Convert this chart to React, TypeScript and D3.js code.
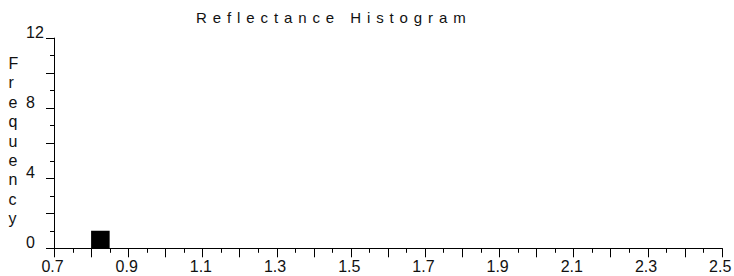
import React, { useEffect, useRef } from "react";
import * as d3 from "d3";

// histogram bins (reflectance) and counts
const binStarts = [0.8];
const binEnds = [0.85];
const binCounts = [1];

const xMajorTicks = [0.7, 0.8, 0.9, 1.0, 1.1, 1.2, 1.3, 1.4, 1.5, 1.6, 1.7, 1.8, 1.9, 2.0, 2.1, 2.2, 2.3, 2.4, 2.5];
const xLabels = [0.7, 0.9, 1.1, 1.3, 1.5, 1.7, 1.9, 2.1, 2.3, 2.5];
const yMajorTicks = [0, 2, 4, 6, 8, 10, 12];
const yLabels = [0, 4, 8, 12];

const title = "Reflectance Histogram";
const yTitle = "Frequency";

const W = 734;
const H = 276;
const margin = { top: 37.7, right: 12.3, bottom: 27.7, left: 54 };

const App: React.FC = () => {
  const ref = useRef<SVGSVGElement>(null);

  useEffect(() => {
    if (!ref.current) return;
    const svg = d3.select(ref.current);
    svg.selectAll("*").remove();

    const width = W - margin.left - margin.right;
    const height = H - margin.top - margin.bottom;
    const font = "'Liberation Sans', Arial, sans-serif";

    const x = d3.scaleLinear().domain([0.7, 2.5]).range([margin.left, margin.left + width]);
    const y = d3.scaleLinear().domain([0, 12]).range([margin.top + height, margin.top]);

    const g = svg.append("g");

    // bars
    g.selectAll(".bar")
      .data(binCounts)
      .enter()
      .append("rect")
      .attr("x", (d, i) => x(binStarts[i]))
      .attr("y", (d) => y(d))
      .attr("width", (d, i) => x(binEnds[i]) - x(binStarts[i]))
      .attr("height", (d) => y(0) - y(d))
      .attr("fill", "#000");

    // y axis
    const yMinor = d3.range(0, 13, 1).filter((v) => v % 2 !== 0);
    g.append("line")
      .attr("x1", x(0.7) + 0.5)
      .attr("x2", x(0.7) + 0.5)
      .attr("y1", y(12))
      .attr("y2", y(0))
      .attr("stroke", "#000");
    g.selectAll(".ymaj")
      .data(yMajorTicks)
      .enter()
      .append("line")
      .attr("x1", x(0.7) - 8)
      .attr("x2", x(0.7) + 0.5)
      .attr("y1", (d) => Math.round(y(d)) + 0.5)
      .attr("y2", (d) => Math.round(y(d)) + 0.5)
      .attr("stroke", "#000");
    g.selectAll(".ymin")
      .data(yMinor)
      .enter()
      .append("line")
      .attr("x1", x(0.7) - 4)
      .attr("x2", x(0.7) + 0.5)
      .attr("y1", (d) => Math.round(y(d)) + 0.5)
      .attr("y2", (d) => Math.round(y(d)) + 0.5)
      .attr("stroke", "#000");
    g.selectAll(".ylab")
      .data(yLabels)
      .enter()
      .append("text")
      .attr("x", 26)
      .attr("y", (d) => y(d))
      .attr("font-family", font)
      .attr("font-size", 16)
      .attr("fill", "#111")
      .text((d) => d3.format("d")(d));

    // x axis
    const xMinor = d3.range(0, 18).map((i) => 0.75 + i * 0.1);
    g.append("line")
      .attr("x1", x(0.7))
      .attr("x2", x(2.5) + 1)
      .attr("y1", Math.round(y(0)) + 0.5)
      .attr("y2", Math.round(y(0)) + 0.5)
      .attr("stroke", "#000");
    g.selectAll(".xmaj")
      .data(xMajorTicks)
      .enter()
      .append("line")
      .attr("x1", (d) => Math.round(x(d)) + 0.5)
      .attr("x2", (d) => Math.round(x(d)) + 0.5)
      .attr("y1", y(0))
      .attr("y2", y(0) + 9)
      .attr("stroke", "#000");
    g.selectAll(".xmin")
      .data(xMinor)
      .enter()
      .append("line")
      .attr("x1", (d) => Math.round(x(d)) + 0.5)
      .attr("x2", (d) => Math.round(x(d)) + 0.5)
      .attr("y1", y(0))
      .attr("y2", y(0) + 4.5)
      .attr("stroke", "#000");
    g.selectAll(".xlab")
      .data(xLabels)
      .enter()
      .append("text")
      .attr("x", (d) => x(d) - 1.5)
      .attr("y", 272)
      .attr("text-anchor", "middle")
      .attr("font-family", font)
      .attr("font-size", 16)
      .attr("fill", "#111")
      .text((d) => d3.format(".1f")(d));

    // title
    svg.append("text")
      .attr("x", 196)
      .attr("y", 23)
      .attr("font-family", font)
      .attr("font-size", 15)
      .attr("letter-spacing", 5.9)
      .attr("fill", "#111")
      .text(title);

    // vertical stacked y title
    svg.selectAll(".ych")
      .data(yTitle.split(""))
      .enter()
      .append("text")
      .attr("x", 8.5)
      .attr("y", (d, i) => 69 + i * 19.4)
      .attr("font-family", font)
      .attr("font-size", 16)
      .attr("fill", "#111")
      .text((d) => d);
  }, []);

  return (
    <svg
      ref={ref}
      width={W}
      height={H}
      style={{ position: "absolute", left: 0, top: 0, background: "#fff" }}
    />
  );
};

export default App;
